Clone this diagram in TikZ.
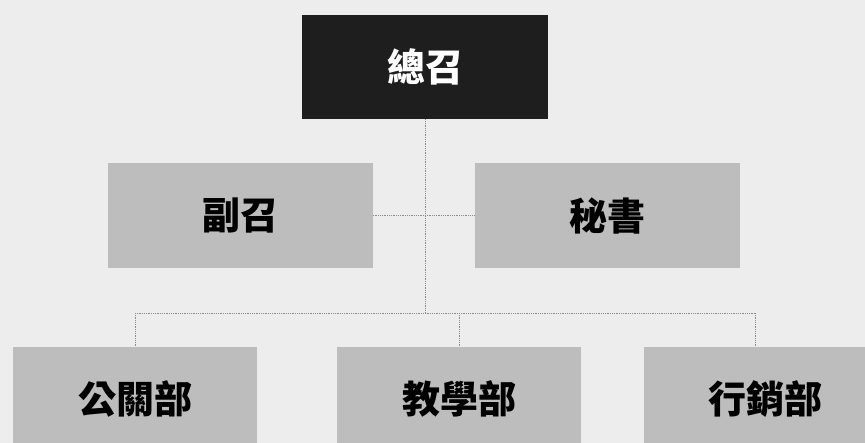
\documentclass[tikz,border=0pt]{standalone}
\usepackage{fontspec}
\newfontfamily\cjk{Noto Sans CJK TC}
\usepackage{tikz}
\usetikzlibrary{positioning}
\definecolor{bggray}{HTML}{EDEDED}
\definecolor{chiefgray}{HTML}{1E1E1E}
\definecolor{boxgray}{HTML}{BDBDBD}
\definecolor{linegray}{HTML}{8C8C8C}

\begin{document}
\begin{tikzpicture}[x=1pt, y=-1pt, node distance=40pt,
    chief/.style={fill=chiefgray, text=white, minimum width=246pt, minimum height=104pt, inner sep=0pt, font=\cjk\bfseries\fontsize{38pt}{42pt}\selectfont},
    staff/.style={fill=boxgray, text=black, minimum width=265pt, minimum height=105pt, inner sep=0pt, font=\cjk\bfseries\fontsize{38pt}{42pt}\selectfont},
    dept/.style={staff, minimum width=244pt, minimum height=104pt},
    link/.style={draw=linegray, densely dotted, line width=0.8pt}]
  \useasboundingbox[fill=bggray] (0,0) rectangle (865,443);

  \node[chief]                                    (chief) at (425,67) {總召};
  \node[staff, below=44pt of chief, xshift=-185pt]  (vice)  {副召};
  \node[staff, right=102pt of vice]                 (sec)   {秘書};
  \node[dept]                                     (pr)    at (135,399) {公關部};
  \node[dept, right=80pt of pr]                     (edu)   {教學部};
  \node[dept, right=62pt of edu]                    (mkt)   {行銷部};

  \coordinate (bus) at (chief |- 0,313);

  \draw[link] (chief) -- (bus);
  \draw[link] (vice) -- (sec);
  \draw[link] (pr.north |- bus) -- ([xshift=-10pt]mkt.north |- bus);
  \draw[link] (pr.north |- bus) -- (pr);
  \draw[link] (edu.north |- bus) -- (edu);
  \draw[link] ([xshift=-10pt]mkt.north |- bus) -- ([xshift=-10pt]mkt.north);
\end{tikzpicture}
\end{document}
